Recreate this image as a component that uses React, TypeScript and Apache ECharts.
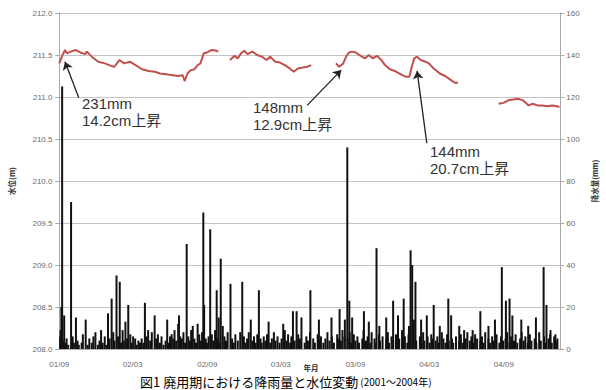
import React, { useEffect, useRef } from "react";
import * as echarts from "echarts";

// Day offsets are counted from 2001-09-01.
const tickDays = [0, 181, 365, 546, 730, 912, 1096];
const tickLabels = ["01/09", "02/03", "02/09", "03/03", "03/09", "04/03", "04/09"];

// Water level (m), one array per continuous record: [day, level]
const levelSeg1: [number, number][] = [
  [0, 211.4], [8, 211.5], [14, 211.56], [19, 211.52], [28, 211.54], [40, 211.56],
  [52, 211.53], [64, 211.51], [68, 211.54], [80, 211.48], [96, 211.42], [112, 211.4],
  [128, 211.37], [136, 211.36], [148, 211.44], [160, 211.4], [174, 211.42], [188, 211.38],
  [204, 211.33], [220, 211.31], [236, 211.3], [248, 211.28], [264, 211.27], [280, 211.26],
  [292, 211.25], [304, 211.26], [309, 211.19], [316, 211.28], [324, 211.32], [333, 211.33],
  [341, 211.38], [348, 211.4], [356, 211.52], [364, 211.53], [376, 211.56], [388, 211.55],
  [392, 211.54],
];
const levelSeg2: [number, number][] = [
  [421, 211.44], [432, 211.49], [440, 211.46], [448, 211.52], [456, 211.55], [464, 211.51],
  [476, 211.54], [488, 211.5], [500, 211.48], [511, 211.44], [520, 211.48], [532, 211.42],
  [544, 211.41], [556, 211.38], [568, 211.34], [578, 211.3], [588, 211.34], [600, 211.35],
  [611, 211.36], [621, 211.38],
];
const levelSeg3: [number, number][] = [
  [682, 211.4], [690, 211.36], [700, 211.4], [707, 211.48], [714, 211.53], [722, 211.54],
  [731, 211.53], [743, 211.49], [754, 211.46], [763, 211.5], [773, 211.46], [783, 211.49],
  [794, 211.44], [803, 211.38], [815, 211.33], [827, 211.31], [842, 211.27], [855, 211.24],
  [863, 211.24], [869, 211.36], [875, 211.46], [882, 211.48], [891, 211.44], [903, 211.42],
  [911, 211.4], [923, 211.34], [938, 211.28], [951, 211.25], [963, 211.21], [975, 211.17],
  [983, 211.17],
];
const levelSeg4: [number, number][] = [
  [1083, 210.92], [1095, 210.93], [1107, 210.96], [1119, 210.97], [1131, 210.98],
  [1143, 210.96], [1157, 210.9], [1167, 210.92], [1179, 210.9], [1191, 210.9],
  [1203, 210.89], [1215, 210.9], [1227, 210.89], [1233, 210.88],
];

// Daily rainfall (mm): larger events [day, mm]
const rainHeavy: [number, number][] = [
  [5, 20], [7, 125], [12, 16], [29, 70], [41, 15], [65, 14], [89, 8], [103, 9],
  [120, 17], [129, 24], [141, 35], [149, 32], [163, 13], [170, 21], [187, 5], [211, 22],
  [228, 8], [235, 16], [266, 14], [273, 6], [293, 12], [295, 16], [314, 50], [329, 11],
  [341, 12], [355, 65], [357, 21], [372, 57], [388, 28], [393, 15], [398, 43], [403, 11],
  [422, 31], [446, 8], [451, 32], [472, 14], [492, 28], [516, 13], [552, 12], [556, 9],
  [576, 18], [585, 18], [597, 15], [619, 28], [640, 14], [671, 15], [691, 19],
  [704, 14], [710, 96], [715, 23], [722, 15], [751, 18], [763, 13], [782, 48], [789, 11],
  [806, 15], [823, 23], [835, 16], [849, 24], [862, 11], [866, 47], [870, 40], [874, 14],
  [878, 32], [892, 14], [906, 16], [923, 21], [938, 11], [959, 24], [966, 16], [986, 11],
  [998, 9], [1019, 9], [1038, 18], [1058, 11], [1074, 14], [1091, 39], [1101, 23],
  [1110, 24], [1117, 16], [1139, 14], [1156, 11], [1175, 15], [1194, 39], [1201, 21],
  [1211, 9], [1223, 7],
];

// Daily rainfall (mm): light rain days [day, mm]
const rainLight: [number, number][] = [
  [2, 6], [3, 9], [9, 4], [15, 3], [18, 5], [22, 2], [33, 6], [36, 3], [45, 4], [48, 2],
  [55, 3], [58, 7], [70, 2], [74, 5], [80, 3], [84, 6], [95, 2], [99, 4],
  [107, 3], [112, 6], [116, 2], [124, 5], [133, 8], [136, 4], [145, 6], [152, 3], [156, 9],
  [159, 4], [167, 5], [175, 7], [178, 3], [182, 6], [191, 2], [195, 4], [199, 3],
  [203, 5], [207, 3], [215, 6], [219, 9], [224, 4], [239, 5], [243, 7], [248, 3], [252, 6],
  [257, 2], [262, 4], [270, 3], [277, 7], [281, 5], [284, 9], [288, 4], [298, 6],
  [302, 5], [306, 8], [310, 3], [318, 6], [322, 4], [325, 9], [333, 5], [337, 3], [345, 7],
  [349, 4], [352, 8], [361, 5], [364, 3], [368, 6], [376, 7], [380, 4], [384, 9], [390, 5],
  [395, 3], [407, 6], [411, 4], [415, 8], [426, 5], [430, 3], [434, 7], [440, 4], [455, 6],
  [459, 3], [463, 5], [467, 8], [476, 4], [480, 6], [484, 3], [488, 7], [496, 5], [499, 3],
  [504, 6], [508, 4], [512, 7], [520, 3], [524, 5], [529, 8], [533, 4], [538, 6], [543, 3],
  [548, 5], [560, 4], [564, 7], [569, 3], [572, 6], [580, 4], [589, 7], [593, 5],
  [605, 3], [609, 6], [613, 4], [618, 8], [626, 5], [630, 3], [637, 7], [641, 4], [645, 6],
  [651, 3], [656, 5], [661, 8], [666, 4], [672, 6], [677, 3], [685, 7], [689, 5], [694, 4],
  [698, 9], [703, 6], [711, 5], [716, 8], [719, 3], [726, 7], [730, 4], [735, 6], [739, 3],
  [747, 5], [750, 9], [756, 4], [760, 6], [767, 3], [770, 8], [777, 5], [781, 3], [788, 7],
  [791, 4], [797, 6], [806, 5], [810, 8], [813, 3], [819, 6], [823, 4], [830, 7], [834, 3],
  [838, 5], [845, 9], [849, 4], [852, 6], [858, 3], [861, 7], [872, 5], [880, 4], [889, 6],
  [893, 3], [897, 8], [900, 4], [908, 6], [913, 3], [917, 7], [920, 5], [928, 4], [932, 6],
  [936, 3], [943, 8], [947, 5], [952, 3], [956, 7], [960, 4], [968, 5], [971, 3], [978, 6],
  [986, 4], [990, 7], [995, 3], [1002, 5], [1006, 8], [1012, 4], [1016, 6], [1021, 3],
  [1025, 7], [1030, 5], [1038, 4], [1042, 6], [1046, 3], [1050, 8], [1058, 5], [1062, 3],
  [1067, 6], [1071, 4], [1078, 7], [1085, 3], [1089, 6], [1094, 4], [1100, 5], [1104, 8],
  [1110, 3], [1114, 6], [1121, 4], [1125, 7], [1129, 3], [1136, 5], [1140, 8], [1145, 4],
  [1149, 6], [1155, 3], [1160, 7], [1164, 4], [1172, 5], [1176, 3], [1183, 8], [1187, 4],
  [1195, 6], [1199, 3], [1206, 5], [1210, 7], [1214, 3], [1220, 6], [1224, 4], [1228, 5],
];

// Rain events: arrow from note to level rise [tailDay, tailLevel, headDay, headLevel]
const eventArrows: [number, number, number, number][] = [
  [48, 210.99, 14, 211.42],
  [611, 210.9, 695, 211.32],
  [906, 210.45, 882, 211.31],
];
const eventNotes = ["231mm\n14.2cm上昇", "148mm\n12.9cm上昇", "144mm\n20.7cm上昇"];

const LATIN = "'Liberation Sans', 'Noto Sans CJK JP', sans-serif";
const CJK = "'Noto Sans CJK JP', sans-serif";
const LEVEL_COLOR = "#c0504d";

export default function App() {
  const ref = useRef<HTMLDivElement>(null);

  useEffect(() => {
    if (!ref.current) return;
    const chart = echarts.init(ref.current, null, { renderer: "svg" });

    const lineSeries = (data: [number, number][], withArrows: boolean) => ({
      type: "line",
      yAxisIndex: 0,
      data,
      showSymbol: false,
      z: 3,
      lineStyle: { color: LEVEL_COLOR, width: 2 },
      ...(withArrows
        ? {
            markLine: {
              silent: true,
              symbol: ["none", "arrow"],
              symbolSize: 8,
              label: { show: false },
              lineStyle: { color: "#222", width: 1.3, type: "solid" },
              data: eventArrows.map(([x1, y1, x2, y2]) => [
                { coord: [x1, y1] },
                { coord: [x2, y2] },
              ]),
            },
          }
        : {}),
    });

    const notePos = [
      [82, 95],
      [253, 99],
      [430, 143],
    ];

    chart.setOption({
      animation: false,
      backgroundColor: "#fff",
      grid: { left: 54, right: 36, top: 13, bottom: 41, containLabel: false },
      xAxis: {
        type: "value",
        min: -2,
        max: 1235,
        axisLine: { show: true, lineStyle: { color: "#b0b0b0" } },
        axisTick: { show: false },
        splitLine: { show: false },
        axisLabel: {
          customValues: tickDays,
          margin: 11,
          fontSize: 8,
          fontFamily: LATIN,
          color: "#6b6b6b",
          formatter: (v: number) => {
            const i = tickDays.indexOf(v);
            return i >= 0 ? tickLabels[i] : "";
          },
        },
      },
      yAxis: [
        {
          type: "value",
          min: 208,
          max: 212,
          interval: 0.5,
          name: "水位(m)",
          nameLocation: "middle",
          nameRotate: 90,
          nameGap: 43,
          nameTextStyle: { fontFamily: CJK, fontSize: 7.5, fontWeight: "bold", color: "#333" },
          axisLine: { show: true, lineStyle: { color: "#a8a8a8" } },
          axisTick: { show: true, length: 4, lineStyle: { color: "#a8a8a8" } },
          splitLine: { show: true, lineStyle: { color: "#c4c4c4", width: 1 } },
          axisLabel: {
            margin: 6,
            fontSize: 8,
            fontFamily: LATIN,
            color: "#6b6b6b",
            formatter: (v: number) => v.toFixed(1),
          },
        },
        {
          type: "value",
          min: 0,
          max: 160,
          interval: 20,
          position: "right",
          name: "降水量(mm)",
          nameLocation: "middle",
          nameRotate: 90,
          nameGap: 29,
          nameTextStyle: { fontFamily: CJK, fontSize: 7.5, fontWeight: "bold", color: "#333" },
          axisLine: { show: true, lineStyle: { color: "#a8a8a8" } },
          axisTick: { show: true, length: 4, lineStyle: { color: "#a8a8a8" } },
          splitLine: { show: false },
          axisLabel: { margin: 6, fontSize: 8, fontFamily: LATIN, color: "#6b6b6b" },
        },
      ],
      series: [
        {
          type: "bar",
          yAxisIndex: 1,
          data: [...rainLight, ...rainHeavy],
          barWidth: 2,
          itemStyle: { color: "#111" },
          z: 2,
        },
        lineSeries(levelSeg1, true),
        lineSeries(levelSeg2, false),
        lineSeries(levelSeg3, false),
        lineSeries(levelSeg4, false),
      ],
      graphic: [
        ...eventNotes.map((t, i) => ({
          type: "text",
          x: notePos[i][0],
          y: notePos[i][1],
          z: 10,
          style: {
            text: t,
            font: `15px ${LATIN}`,
            lineHeight: 17,
            fill: "#333",
            verticalAlign: "top",
          },
        })),
        // x-axis title, set between the tick labels and the caption
        {
          type: "text",
          x: 311,
          y: 364,
          z: 10,
          style: {
            text: "年月",
            font: `bold 7.5px ${CJK}`,
            fill: "#333",
            align: "center",
            verticalAlign: "top",
          },
        },
        {
          type: "text",
          x: 140,
          y: 375,
          z: 10,
          style: {
            text: "{a|図1 廃用期における降雨量と水位変動}{b| (2001～2004年)}",
            verticalAlign: "top",
            rich: {
              a: { fontFamily: CJK, fontSize: 13, color: "#222" },
              b: { fontFamily: CJK, fontSize: 10, color: "#aaa" },
            },
          },
        },
      ],
    });

    return () => chart.dispose();
  }, []);

  return (
    <div
      ref={ref}
      style={{ position: "fixed", left: 0, top: 0, width: 606, height: 390, background: "#fff" }}
    />
  );
}
